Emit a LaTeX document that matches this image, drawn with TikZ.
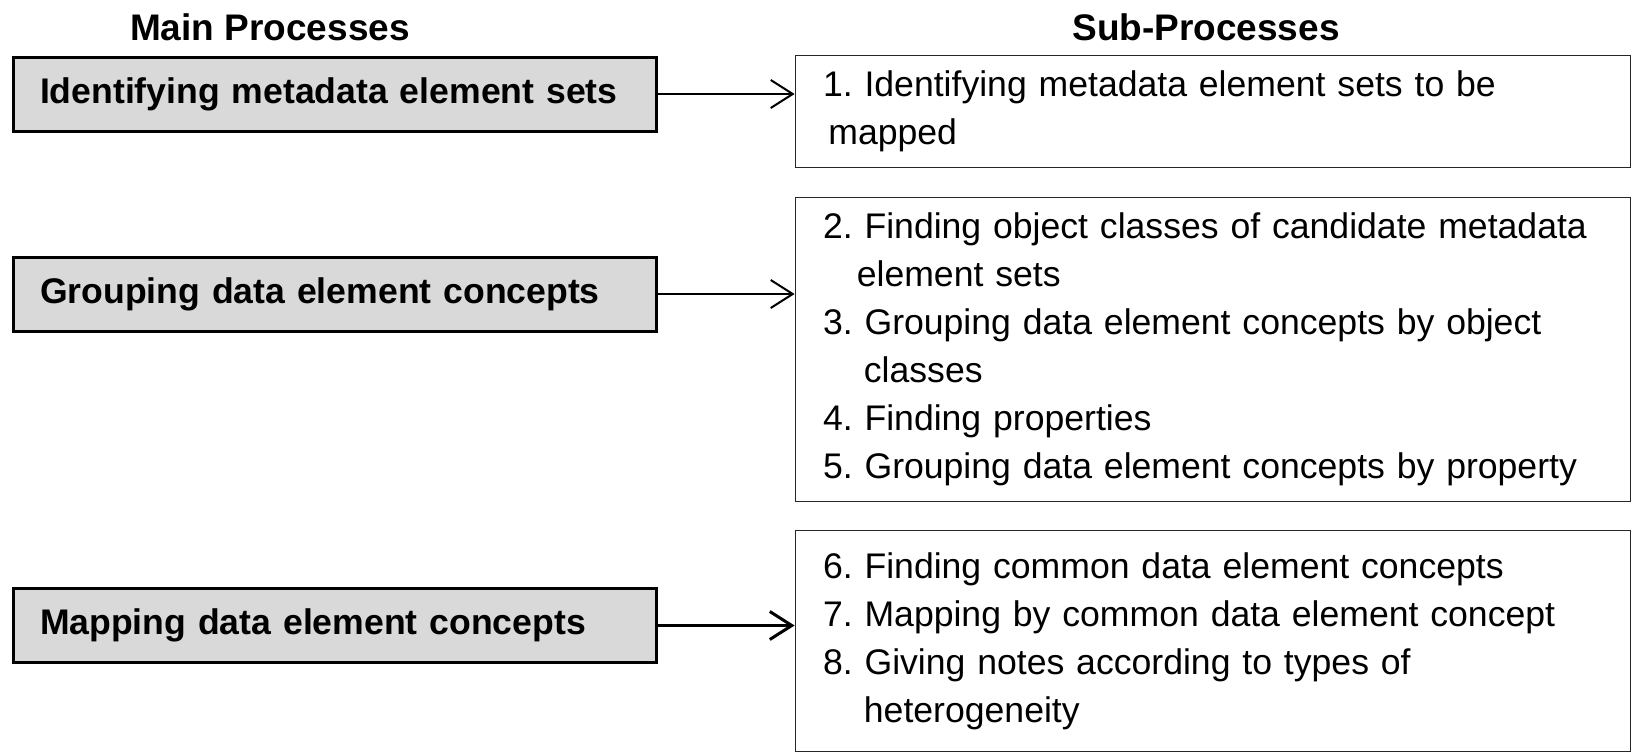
\documentclass[tikz,border=0pt]{standalone}
\usepackage{fontspec}
\setmainfont{Liberation Sans}
\usetikzlibrary{positioning,arrows.meta}

\definecolor{boxgray}{RGB}{217,217,217}
\newcommand{\contline}[1][0.95em]{\hspace*{#1}}
\frenchspacing

\begin{document}
\begin{tikzpicture}[
                x=0.5pt, y=-0.5pt,
                mainbox/.style={rectangle, draw=black, line width=1.5pt, fill=boxgray,
                    minimum width=321.5pt, minimum height=37pt, text width=295pt,
                    inner xsep=13.25pt, align=left, font=\bfseries\fontsize{17.8}{22}\selectfont},
                subbox/.style={rectangle, draw=black!85, line width=0.9pt,
                    minimum width=417.5pt, text width=390pt, inner xsep=13.75pt,
                    align=left, font=\fontsize{17.8}{24}\selectfont},
                head/.style={font=\bfseries\fontsize{18.5}{22}\selectfont},
                arrow/.style={-{Straight Barb[length=11pt, width=14pt]}, line width=1pt}
            ]

            \useasboundingbox (0,0) rectangle (1633,755);

            %headings
            \node[head]     (mainhead)  at (270,27)     {Main Processes};
            \node[head]     (subhead)   at (1206,27)    {Sub-Processes};

            %main processes
            \node[mainbox]  (main1)     at (335,94)     {Identifying metadata element sets};
            \node[mainbox]  (main2)     at (335,294)    {Grouping data element concepts};
            \node[mainbox]  (main3)     at (335,625.5)  {Mapping data element concepts};

            %sub-processes
            \node[subbox, minimum height=56pt]      (sub1)  at (1213,111.5)
                {1. Identifying metadata element sets to be\\
                 \contline[0.15em]mapped};
            \node[subbox, minimum height=152pt]     (sub2)  at (1213,349.5)
                {2. Finding object classes of candidate metadata\\
                 \contline element sets\\
                 3. Grouping data element concepts by object\\
                 \contline[1.15em]classes\\
                 4. Finding properties\\
                 5. Grouping data element concepts by property};
            \node[subbox, minimum height=110.5pt]   (sub3)  at (1213,641)
                {6. Finding common data element concepts\\
                 7. Mapping by common data element concept\\
                 8. Giving notes according to types of\\
                 \contline[1.15em]heterogeneity};

            %arrows
            \draw[arrow]                (main1.east) -- (main1.east -| sub1.west);
            \draw[arrow]                (main2.east) -- (main2.east -| sub2.west);
            \draw[arrow, line width=1.5pt] (main3.east) -- (main3.east -| sub3.west);

\end{tikzpicture}
\end{document}
